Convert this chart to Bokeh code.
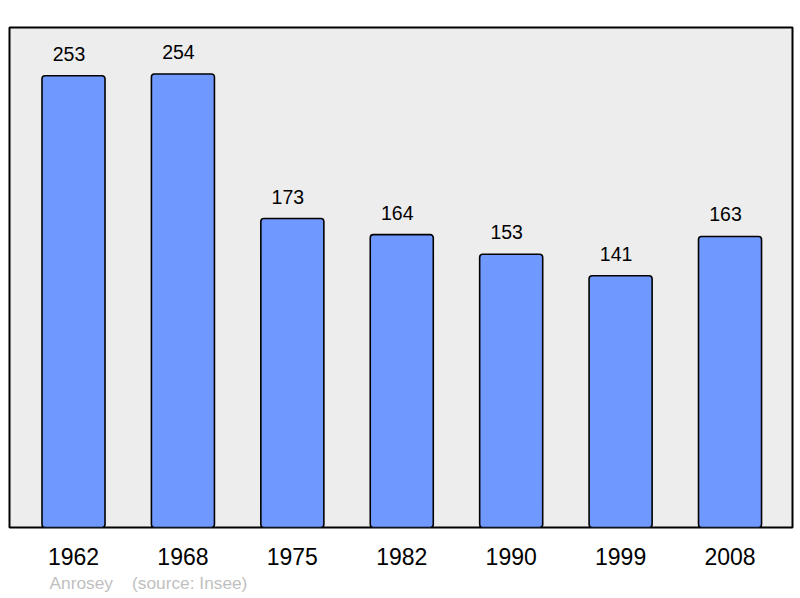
from bokeh.plotting import figure
from bokeh.models import ColumnDataSource, Range1d, FixedTicker, Title
from bokeh.embed import file_html
from bokeh.resources import INLINE
from bokeh.core.properties import value

years = ["1962", "1968", "1975", "1982", "1990", "1999", "2008"]
population = [253, 254, 173, 164, 153, 141, 163]
commune = "Anrosey"
source_note = "(source: Insee)"

xs = list(range(len(years)))
src = ColumnDataSource(dict(x=xs, pop=population, lab=[str(v) for v in population]))

p = figure(width=798, height=596, output_backend="svg", toolbar_location=None,
           x_range=Range1d(-0.585, 6.571), y_range=Range1d(0, 280),
           min_border_left=9, min_border_right=6, min_border_top=27, min_border_bottom=68)
p.background_fill_color = "#ededed"
p.border_fill_color = "white"
p.outline_line_color = "black"
p.outline_line_width = 2
p.xgrid.visible = False
p.ygrid.visible = False
p.yaxis.visible = False

p.vbar(x="x", top="pop", bottom=0, width=0.576, source=src,
       fill_color="#7099ff", line_color="black", line_width=1.6, border_radius=3)
p.text(x="x", y="pop", text="lab", source=src, text_align="center",
       text_baseline="alphabetic", y_offset=-22, x_offset=-4.5, text_font_size="19.5px",
       text_font=value("Liberation Sans"), text_color="black")

ax = p.xaxis[0]
ax.ticker = FixedTicker(ticks=xs)
ax.major_label_overrides = {i: y for i, y in zip(xs, years)}
ax.axis_line_color = None
ax.major_tick_line_color = None
ax.minor_tick_line_color = None
ax.major_tick_out = 0
ax.major_label_standoff = 20
ax.major_label_text_font = "Liberation Sans"
ax.major_label_text_font_size = "23px"
ax.major_label_text_color = "black"

note = commune + "\u00a0\u00a0\u00a0\u00a0" + source_note
p.add_layout(Title(text=note, align="left", offset=40, standoff=7,
                   text_font_size="17.3px", text_font="Liberation Sans",
                   text_font_style="normal", text_color="#c0c0c0"), "below")

open("out.html", "w").write(file_html(p, INLINE))
